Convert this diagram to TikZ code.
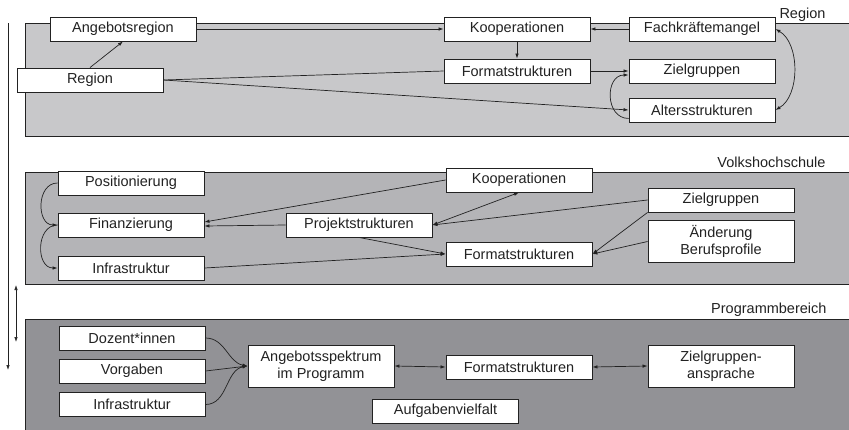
\documentclass[tikz,border=0pt]{standalone}
\usepackage{fontspec}
\setmainfont{Liberation Sans}
\usetikzlibrary{arrows.meta}
\definecolor{bandA}{RGB}{200,200,202}
\definecolor{bandB}{RGB}{180,180,183}
\definecolor{bandC}{RGB}{146,146,150}
\definecolor{ink}{RGB}{34,34,34}
\begin{document}
\begin{tikzpicture}[x=1pt,y=-1pt]

    \tikzset{
      box/.style={
        draw=ink,
        fill=white,
        line width=0.9pt,
        minimum width=146pt,
        minimum height=24pt,
        inner sep=1pt,
        align=center,
        text=ink,
        font=\fontsize{14.5}{16.5}\selectfont,
      },
      tallbox/.style={box, minimum height=42pt},
      band/.style={draw=ink, line width=0.9pt},
      tag/.style={anchor=base east, text=ink, font=\fontsize{14.5}{16.5}\selectfont},
      arr/.style={draw=ink, line width=0.7pt, -{Latex[length=5pt,width=3.5pt]}},
      darr/.style={arr, {Latex[length=5pt,width=3.5pt]}-{Latex[length=5pt,width=3.5pt]}},
      plain/.style={draw=ink, line width=0.7pt},
    }
    \useasboundingbox (0,0) rectangle (849,429);
    \fill[white] (0,0) rectangle (849,429);
    \draw[band, fill=bandA] (25,23) rectangle (860,136);
    \draw[band, fill=bandB] (25,172) rectangle (860,284);
    \draw[band, fill=bandC] (25,319) rectangle (860,440);
	\node[tag] (tagR) at (829,18) {Region};
	\node[tag] (tagV) at (829,167) {Volkshochschule};
	\node[tag] (tagP) at (830,313) {Programmbereich};

	\node[box] (angreg) at (123,29) {Angebotsregion};
	\node[box] (reg) at (90,80) {Region};
	\node[box] (koopR) at (517,29) {Kooperationen};
	\node[box] (fach) at (702,29) {Fachkräftemangel};
	\node[box] (formR) at (517,71) {Formatstrukturen};
	\node[box] (zielR) at (702,71) {Zielgruppen};
	\node[box] (alterR) at (702,110) {Altersstrukturen};
	\draw[arr] (reg.north) -- (angreg.south);
	\draw[arr] (angreg.east) -- (koopR.west);
	\draw[arr] (fach.west) -- (koopR.east);
	\draw[arr] (koopR) -- (formR);
	\draw[plain] (reg.east) -- (formR.west);
	\draw[arr] (reg.east) -- (alterR.west);
	\draw[arr] (formR) -- (zielR);
	\draw[arr] ([yshift=4pt]alterR.south west) to[out=180,in=180,looseness=1.4] ([yshift=-4pt]zielR.west);
	\draw[darr] (fach.east) to[out=-30,in=30,looseness=0.9] (alterR.east);

	\node[box] (pos) at (131,183) {Positionierung};
	\node[box] (fin) at (131,225) {Finanzierung};
	\node[box] (infV) at (131,268) {Infrastruktur};
	\node[box] (proj) at (359,225) {Projektstrukturen};
	\node[box] (koopV) at (519,180) {Kooperationen};
	\node[box] (formV) at (519,254) {Formatstrukturen};
	\node[box] (zielV) at (721,200) {Zielgruppen};
	\node[tallbox] (aend) at (721,241.5) {Änderung\\Berufsprofile};
	\draw[arr] (pos.west) to[out=180,in=180,looseness=1.3] (fin.west);
	\draw[arr] (fin.west) to[out=180,in=180,looseness=1.3] (infV.west);
	\draw[arr] (koopV.west) -- ([yshift=3pt]fin.east);
	\draw[arr] (proj.west) -- ([yshift=-1pt]fin.east);
	\draw[arr] (zielV.west) -- (proj.east);
	\draw[darr] (proj.east) -- (koopV.south);
	\draw[arr] (proj.south) -- (formV.west);
	\draw[arr] (infV.east) -- (formV.west);
	\draw[arr] (zielV.south west) -- (formV.east);
	\draw[arr] (aend.west) -- (formV.east);

	\node[box] (doz) at (132,338) {Dozent*innen};
	\node[box] (vorg) at (132,371) {Vorgaben};
	\node[box] (infP) at (132,404.5) {Infrastruktur};
	\node[tallbox] (spek) at (321,366) {Angebotsspektrum\\im Programm};
	\node[box] (formP) at (519,367) {Formatstrukturen};
	\node[tallbox] (zielP) at (721,366) {Zielgruppen-\\ansprache};
	\node[box] (aufg) at (445.5,411) {Aufgabenvielfalt};
	\draw[arr] (doz.east) to[out=0,in=170] (spek.west);
	\draw[arr] (vorg.east) -- (spek.west);
	\draw[arr] (infP.east) to[out=0,in=190] (spek.west);
	\draw[darr] (spek.east) -- (formP.west);
	\draw[darr] (formP.east) -- (zielP.west);

	\coordinate (axT) at (8,23);
	\coordinate (axB) at (8,370);
	\coordinate (subT) at (16,285);
	\coordinate (subB) at (16,342);
	\draw[arr] (axT) -- (axB);
	\draw[darr] (subT) -- (subB);

\end{tikzpicture}
\end{document}
